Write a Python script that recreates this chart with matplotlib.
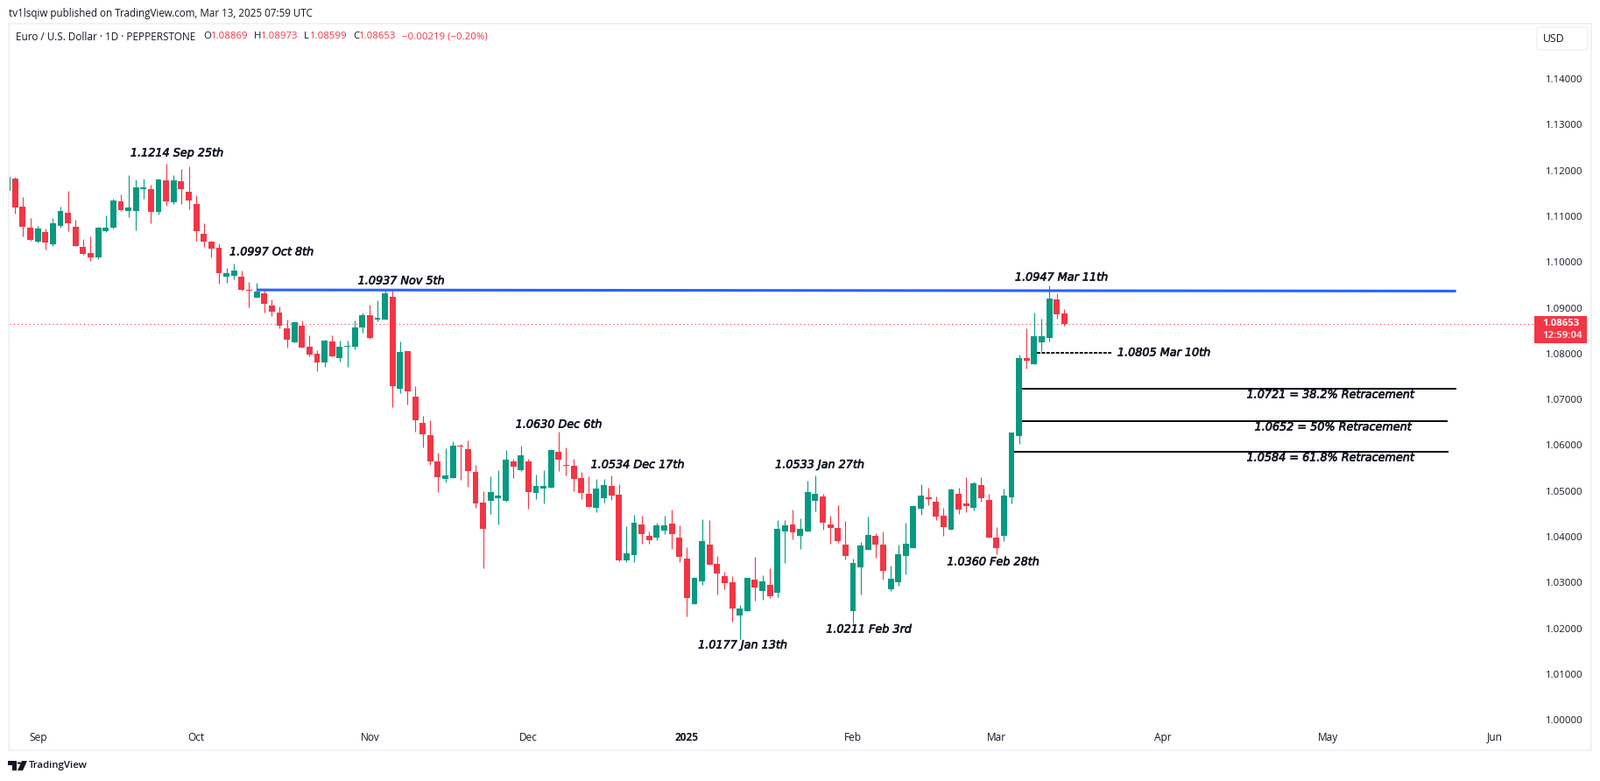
import matplotlib
matplotlib.use("Agg")
import matplotlib.pyplot as plt
import matplotlib.patheffects as pe
from matplotlib.patches import Rectangle, FancyBboxPatch, Polygon, Circle

# daily EUR/USD candles, one entry per bar, oldest first
opens = [
    1.11559, 1.11820, 1.11208, 1.10749, 1.10443, 1.10654, 1.10386, 1.10788, 1.11074, 1.10769,
    1.10329, 1.10195, 1.10099, 1.10673, 1.10749, 1.11323, 1.11113, 1.11113, 1.11591, 1.11591,
    1.11094, 1.11782, 1.11304, 1.11763, 1.11533, 1.11266, 1.10616, 1.10443, 1.10310, 1.09679,
    1.09698, 1.09679, 1.09392, 1.09220, 1.09315, 1.09048, 1.08895, 1.08550, 1.08245, 1.08608,
    1.08149, 1.07996, 1.07805, 1.08264, 1.07900, 1.08149, 1.08149, 1.08570, 1.08837, 1.08742,
    1.08742, 1.09239, 1.07231, 1.08053, 1.07059, 1.06486, 1.06218, 1.05644, 1.05262, 1.05281,
    1.05988, 1.05912, 1.05415, 1.04746, 1.04784, 1.04841, 1.04784, 1.05644, 1.05453, 1.05644,
    1.04956, 1.05051, 1.05071, 1.05855, 1.05568, 1.05549, 1.05281, 1.04937, 1.04631, 1.04841,
    1.05109, 1.04918, 1.03480, 1.03598, 1.04268, 1.04019, 1.03981, 1.04134, 1.04287, 1.03981,
    1.03522, 1.02528, 1.03025, 1.03828, 1.03407, 1.03139, 1.03006, 1.02279, 1.02375, 1.03063,
    1.02814, 1.02948, 1.02776, 1.04115, 1.04268, 1.04019, 1.04114, 1.04784, 1.04879, 1.04267,
    1.04191, 1.03828, 1.02374, 1.03331, 1.03713, 1.04019, 1.03828, 1.02853, 1.03006, 1.03579,
    1.03751, 1.04612, 1.04860, 1.04765, 1.04459, 1.04153, 1.04937, 1.04726, 1.04631, 1.05128,
    1.04803, 1.03981, 1.04019, 1.04860, 1.06199, 1.07900, 1.07767, 1.08245, 1.08340, 1.09182, 1.08869,
]
highs = [
    1.11858, 1.11858, 1.11419, 1.10960, 1.10788, 1.10730, 1.10960, 1.11208, 1.11553, 1.10922,
    1.10501, 1.10558, 1.10769, 1.11017, 1.11380, 1.11476, 1.11897, 1.11801, 1.11820, 1.11686,
    1.11820, 1.12140, 1.11897, 1.12031, 1.12088, 1.11457, 1.10845, 1.10463, 1.10405, 1.09870,
    1.09970, 1.09813, 1.09564, 1.09545, 1.09373, 1.09181, 1.09029, 1.08742, 1.08703, 1.08723,
    1.08398, 1.08072, 1.08302, 1.08398, 1.08283, 1.08283, 1.08723, 1.08895, 1.09067, 1.09162,
    1.09370, 1.09373, 1.08264, 1.08060, 1.07288, 1.06639, 1.06543, 1.05835, 1.05931, 1.06084,
    1.06027, 1.06103, 1.05568, 1.04994, 1.05319, 1.05453, 1.05893, 1.05702, 1.05988, 1.05702,
    1.05357, 1.05453, 1.05912, 1.06300, 1.05950, 1.05702, 1.05415, 1.05319, 1.05262, 1.05262,
    1.05340, 1.05147, 1.04229, 1.04478, 1.04459, 1.04115, 1.04306, 1.04459, 1.04593, 1.04249,
    1.03771, 1.03120, 1.04382, 1.04363, 1.03579, 1.03235, 1.03139, 1.02508, 1.03110, 1.03560,
    1.03159, 1.03312, 1.04363, 1.04363, 1.04593, 1.04402, 1.05224, 1.05330, 1.04937, 1.04459,
    1.04688, 1.04344, 1.03522, 1.03885, 1.04440, 1.04076, 1.04115, 1.03369, 1.03828, 1.04306,
    1.04688, 1.05147, 1.05071, 1.04879, 1.04631, 1.05052, 1.05071, 1.05300, 1.05205, 1.05300,
    1.04937, 1.04210, 1.05051, 1.06280, 1.07977, 1.08551, 1.08895, 1.08761, 1.09480, 1.09315, 1.08973,
]
lows = [
    1.11559, 1.11055, 1.10558, 1.10463, 1.10424, 1.10271, 1.10348, 1.10749, 1.10673, 1.10340,
    1.10157, 1.10023, 1.10061, 1.10660, 1.10740, 1.11113, 1.10979, 1.10692, 1.11380, 1.10845,
    1.11036, 1.11227, 1.11266, 1.11266, 1.11151, 1.10463, 1.10329, 1.10099, 1.09526, 1.09545,
    1.09621, 1.09373, 1.09009, 1.09215, 1.08895, 1.08818, 1.08550, 1.08130, 1.08240, 1.08125,
    1.07939, 1.07613, 1.07709, 1.07930, 1.07824, 1.07709, 1.08092, 1.08455, 1.08321, 1.08703,
    1.08735, 1.06830, 1.07135, 1.06887, 1.06294, 1.05950, 1.05568, 1.04975, 1.05185, 1.05275,
    1.05243, 1.05090, 1.04631, 1.03320, 1.04497, 1.04267, 1.04765, 1.05281, 1.05434, 1.04612,
    1.04822, 1.04726, 1.05065, 1.05434, 1.05338, 1.04994, 1.04822, 1.04645, 1.04535, 1.04746,
    1.04803, 1.03470, 1.03440, 1.03445, 1.03847, 1.03847, 1.03923, 1.04057, 1.03732, 1.03445,
    1.02260, 1.02520, 1.02948, 1.03380, 1.02738, 1.02853, 1.02145, 1.01770, 1.02370, 1.02604,
    1.02623, 1.02661, 1.02681, 1.03426, 1.03943, 1.03732, 1.04110, 1.04554, 1.04153, 1.03847,
    1.03866, 1.03503, 1.02110, 1.02738, 1.03705, 1.03541, 1.03063, 1.02814, 1.02929, 1.03178,
    1.03745, 1.04478, 1.04688, 1.04363, 1.04019, 1.04145, 1.04497, 1.04535, 1.04574, 1.04765,
    1.03975, 1.03617, 1.03904, 1.04726, 1.06026, 1.07671, 1.07760, 1.08053, 1.08264, 1.08761, 1.08599,
]
closes = [
    1.11858, 1.11196, 1.10775, 1.10482, 1.10730, 1.10424, 1.10845, 1.11113, 1.10845, 1.10348,
    1.10176, 1.10099, 1.10749, 1.10749, 1.11342, 1.11132, 1.11189, 1.11629, 1.11629, 1.11094,
    1.11801, 1.11323, 1.11782, 1.11591, 1.11342, 1.10673, 1.10443, 1.10290, 1.09755, 1.09755,
    1.09813, 1.09392, 1.09373, 1.09354, 1.09086, 1.08914, 1.08608, 1.08302, 1.08684, 1.08130,
    1.07977, 1.07805, 1.08283, 1.07939, 1.08149, 1.08168, 1.08570, 1.08837, 1.08340, 1.08780,
    1.09315, 1.07288, 1.08034, 1.07174, 1.06543, 1.06237, 1.05644, 1.05300, 1.05338, 1.05988,
    1.05969, 1.05434, 1.04726, 1.04172, 1.04975, 1.04898, 1.05682, 1.05530, 1.05778, 1.04975,
    1.05109, 1.05109, 1.05893, 1.05682, 1.05549, 1.05262, 1.04956, 1.04650, 1.05051, 1.05128,
    1.04898, 1.03490, 1.03636, 1.04306, 1.04057, 1.03923, 1.04249, 1.04249, 1.04057, 1.03560,
    1.02661, 1.03101, 1.03904, 1.03388, 1.03197, 1.02987, 1.02432, 1.02432, 1.03101, 1.02891,
    1.03025, 1.02700, 1.04172, 1.04249, 1.04096, 1.04172, 1.04975, 1.04937, 1.04306, 1.04191,
    1.03904, 1.03579, 1.03426, 1.03809, 1.04038, 1.03828, 1.03254, 1.03082, 1.03617, 1.03847,
    1.04669, 1.04899, 1.04822, 1.04440, 1.04210, 1.05032, 1.04593, 1.04669, 1.05166, 1.04841,
    1.03981, 1.03751, 1.04898, 1.06275, 1.07900, 1.07843, 1.08378, 1.08378, 1.09201, 1.08857, 1.08653,
]

last_close = 1.08653
resistance_bars = [33, 191.9]
resistance_prices = [1.09390, 1.09365]
support_bars = [136.4, 146.2]
support_price = 1.08021
fib_starts = [134.4, 134.4, 133.3]
fib_ends = [191.9, 190.8, 190.9]
fib_prices = [1.07231, 1.06517, 1.05854]

price_ticks = [1.00, 1.01, 1.02, 1.03, 1.04, 1.05, 1.06, 1.07, 1.08, 1.09, 1.10, 1.11, 1.12, 1.13, 1.14]
month_bars = [4, 25, 48, 69, 90, 112, 131, 153, 175, 197]
month_labels = ["Sep", "Oct", "Nov", "Dec", "2025", "Feb", "Mar", "Apr", "May", "Jun"]

# drawn notes: text, centre x and y in picture pixels
notes = [
    ("1.1214 Sep 25th", 202, 175),
    ("1.0997 Oct 8th", 310, 288),
    ("1.0937 Nov 5th", 458, 321),
    ("1.0947 Mar 11th", 1212, 317),
    ("1.0805 Mar 10th", 1329, 403),
    ("1.0721 = 38.2% Retracement", 1519, 451),
    ("1.0652 = 50% Retracement", 1522, 488),
    ("1.0584 = 61.8% Retracement", 1519, 523),
    ("1.0630 Dec 6th", 638, 485),
    ("1.0534 Dec 17th", 728, 531),
    ("1.0533 Jan 27th", 936, 531),
    ("1.0177 Jan 13th", 848, 737),
    ("1.0211 Feb 3rd", 992, 719),
    ("1.0360 Feb 28th", 1134, 642),
]

W, H = 1827, 892
INK = "#131722"
RED = "#f23645"
GREEN = "#089981"
FRAME = "#f0f3f5"
FONT = "Open Sans"


def fx(x):
    return x / W


def fy(y):
    return 1 - y / H


def label(x, y, s, color=INK, size=8.2, ha="left", **kw):
    fig.text(fx(x), fy(y), s, color=color, fontsize=size, ha=ha, va="center", family=FONT, **kw)


def fig_rect(x0, y0, x1, y1, **kw):
    fig.add_artist(Rectangle((fx(x0), fy(y1)), (x1 - x0) / W, (y1 - y0) / H, transform=fig.transFigure, **kw))


fig = plt.figure(figsize=(W / 100, H / 100), dpi=100)
ax = fig.add_axes([fx(11), fy(830), (1752 - 11) / W, (830 - 27) / H])

bars = list(range(len(opens)))
colors = [GREEN if c >= o else RED for o, c in zip(opens, closes)]
bottoms = [min(o, c) for o, c in zip(opens, closes)]
heights = [abs(c - o) for o, c in zip(opens, closes)]

ax.vlines(bars, lows, highs, colors=colors, linewidth=0.8, zorder=2)
ax.bar(bars, heights, bottom=bottoms, width=0.8, color=colors, linewidth=0, zorder=3)
ax.axhline(last_close, color=RED, linewidth=0.8, linestyle=(0, (1, 3)), zorder=1)

ax.plot(resistance_bars, resistance_prices, color="#2962ff", linewidth=2.2, zorder=4, solid_capstyle="butt")
ax.plot(support_bars, [support_price, support_price], color="black", linewidth=1.3, linestyle=(0, (2.2, 0.8)), zorder=4)
for start, end, price in zip(fib_starts, fib_ends, fib_prices):
    ax.plot([start, end], [price, price], color="black", linewidth=1.4, zorder=4, solid_capstyle="butt")

ax.set_xlim(0.27, 202.27)
ax.set_ylim(0.99851, 1.15205)
for spine in ax.spines.values():
    spine.set_visible(False)

ax.yaxis.tick_right()
ax.set_yticks(price_ticks)
ax.set_yticklabels([f"{p:.5f}" for p in price_ticks], family=FONT, fontsize=8.2, color=INK)
ax.tick_params(axis="y", length=0, pad=9)
ax.set_xticks(month_bars)
ax.set_xticklabels(month_labels, family=FONT, fontsize=8.6, color=INK)
ax.tick_params(axis="x", length=0, pad=4)
for tick in ax.get_xticklabels():
    if tick.get_text() == "2025":
        tick.set_fontweight("bold")

for text, x, y in notes:
    fig.text(fx(x), fy(y), text, color=INK, fontsize=9.2, family="DejaVu Sans", style="italic",
             ha="center", va="center", path_effects=[pe.withStroke(linewidth=0.45, foreground=INK)])

# chart frame
fig_rect(9, 26, 1818, 28, color=FRAME, linewidth=0)
fig_rect(9, 856, 1818, 858, color=FRAME, linewidth=0)
fig_rect(9, 26, 11, 858, color=FRAME, linewidth=0)
fig_rect(1816, 26, 1818, 858, color=FRAME, linewidth=0)

# header and OHLC row
label(10, 15, "tv1lsqiw published on TradingView.com, Mar 13, 2025 07:59 UTC", size=8.35)
label(18, 42, "Euro / U.S. Dollar · 1D · PEPPERSTONE", size=8.45)
label(232, 42, "O")
label(241, 42, "1.08869", color=RED)
label(290, 42, "H")
label(298, 42, "1.08973", color=RED)
label(347, 42, "L")
label(354, 42, "1.08599", color=RED)
label(403, 42, "C")
label(410, 42, "1.08653", color=RED)
label(459, 42, "−0.00219 (−0.20%)", color=RED)

# USD button and last price tag
fig.add_artist(FancyBboxPatch((fx(1755), fy(57)), 58 / W, 26 / H, boxstyle="round,pad=0,rounding_size=0.002",
                              transform=fig.transFigure, facecolor="white", edgecolor=FRAME, linewidth=1.2))
label(1774, 45, "USD", ha="center", size=8.8)
fig_rect(1752, 361, 1812, 392, color=RED, linewidth=0)
label(1761, 370, "1.08653", color="white", weight="bold")
label(1761, 384, "12:59:04", color="#fcdfe2", weight="bold")

# TradingView mark
fig.add_artist(Polygon([(fx(a), fy(b)) for a, b in [(9, 869), (19, 869), (19, 880), (14, 880), (14, 874), (9, 874)]],
                       transform=fig.transFigure, color=INK, linewidth=0))
fig.add_artist(Circle((fx(22), fy(871.5)), 2.4 / W, transform=fig.transFigure, color=INK, linewidth=0))
fig.add_artist(Polygon([(fx(a), fy(b)) for a, b in [(25, 869), (31, 869), (26, 880), (20, 880)]],
                       transform=fig.transFigure, color=INK, linewidth=0))
label(33, 875, "TradingView", size=8.2, weight="semibold")

fig.savefig("out.png", dpi=100)
